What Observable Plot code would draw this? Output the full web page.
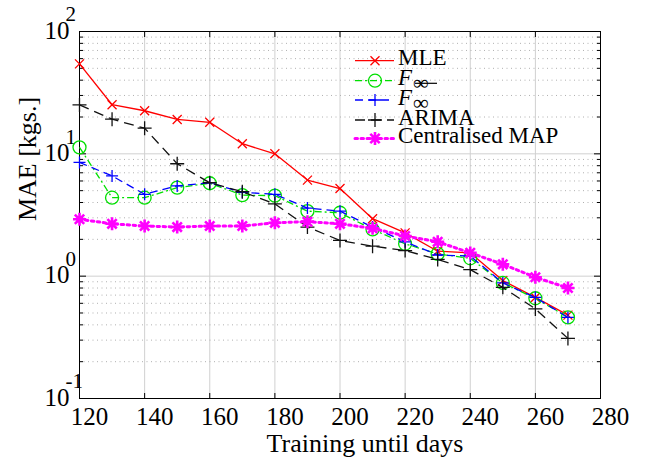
<!DOCTYPE html>
<html><head><meta charset="utf-8">
<script src="https://cdn.jsdelivr.net/npm/d3@7"></script>
<script src="https://cdn.jsdelivr.net/npm/@observablehq/plot@0.6"></script>
<style>body{margin:0;background:#fff} svg{display:block}</style>
</head><body><div id="chart"></div>
<script>
// ---- data ----
const days   = [120,130,140,150,160,170,180,190,200,210,220,230,240,250,260,270];
const mle    = [54.4,25.2,22.5,19.1,18.1,12.1,10.0,6.1,5.2,2.95,2.26,1.60,1.55,0.92,0.67,0.48];
const fGreen = [11.3,4.38,4.38,5.29,5.75,4.6,4.55,3.4,3.3,2.41,1.84,1.52,1.40,0.88,0.66,0.46];
const fBlue  = [8.5,6.6,4.67,5.47,5.8,4.85,4.67,3.6,3.4,2.52,1.91,1.49,1.46,0.88,0.67,0.46];
const arima  = [25.1,19.2,16.2,8.3,5.8,4.9,3.9,2.52,1.96,1.76,1.62,1.37,1.13,0.81,0.54,0.31];
const cmap   = [2.92,2.68,2.57,2.52,2.57,2.57,2.73,2.79,2.68,2.46,2.13,1.91,1.55,1.25,0.98,0.80];
const seriesNames = ["MLE","F","F","ARIMA","Centralised MAP"];
const xTicks = [120,140,160,180,200,220,240,260,280];
const xTickLabels = ["120","140","160","180","200","220","240","260","280"];
const yTicks = [0.1,1,10,100];
const yTickBase = ["10","10","10","10"];
const yTickExp = ["-1","0","1","2"];
const xLabel = "Training until days";
const yLabel = "MAE [kgs.]";

// minor log grid values
const yMinor = [];
for (const d of [0.1,1,10]) for (let k=2;k<=9;k++) yMinor.push(+(d*k).toPrecision(3));

// ---- symbols ----
const rad = s => Math.sqrt(s/Math.PI);
const symTimes = {draw(c,s){const r=rad(s);c.moveTo(-r,-r);c.lineTo(r,r);c.moveTo(-r,r);c.lineTo(r,-r);}};
const symPlus  = {draw(c,s){const r=rad(s);c.moveTo(-r,0);c.lineTo(r,0);c.moveTo(0,-r);c.lineTo(0,r);}};
const symAst   = {draw(c,s){const r=rad(s),q=r*0.72;c.moveTo(-r,0);c.lineTo(r,0);c.moveTo(0,-r);c.lineTo(0,r);
  c.moveTo(-q,-q);c.lineTo(q,q);c.moveTo(-q,q);c.lineTo(q,-q);}};

const series = [
  {name:seriesNames[0], vals:mle,    stroke:"#ff0000", dash:null,      sw:1.3, sym:symTimes, r:4.5, msw:1.3},
  {name:seriesNames[1], vals:fGreen, stroke:"#00e000", dash:"7,3,2,3", sw:1.3, sym:"circle", r:6.5, msw:1.3},
  {name:seriesNames[2], vals:fBlue,  stroke:"#0000ff", dash:"8,5",     sw:1.3, sym:symPlus,  r:6,   msw:1.3},
  {name:seriesNames[3], vals:arima,  stroke:"#111111", dash:"10,6",    sw:1.3, sym:symPlus,  r:7,   msw:1.3},
  {name:seriesNames[4], vals:cmap,   stroke:"#ff00ff", dash:"2.5,3.5", sw:3,   sym:symAst,   r:6.5, msw:2.6}
];

const marks = [
  Plot.gridX(xTicks, {stroke:"#d0d0d0", strokeOpacity:1}),
  Plot.gridY(yMinor, {stroke:"#b0b0b0", strokeOpacity:1, strokeDasharray:"1,3.5"}),
  Plot.gridY(yTicks, {stroke:"#d0d0d0", strokeOpacity:1}),
  Plot.axisX({ticks:xTicks, anchor:"bottom", tickSize:0, tickPadding:9, fontSize:25, dx:10,
    tickFormat:(d)=>xTickLabels[xTicks.indexOf(d)]}),
  Plot.axisX({ticks:xTicks, anchor:"bottom", tickSize:-5, tickFormat:()=>""}),
  Plot.axisX({ticks:xTicks, anchor:"top", tickSize:-5, tickFormat:()=>""}),
  Plot.axisY({ticks:yTicks, anchor:"left", tickSize:-7, tickFormat:()=>""}),
  Plot.axisY({ticks:yMinor, anchor:"left", tickSize:-4, tickFormat:()=>""}),
  Plot.axisY({ticks:yTicks, anchor:"right", tickSize:-7, tickFormat:()=>""}),
  Plot.axisY({ticks:yMinor, anchor:"right", tickSize:-4, tickFormat:()=>""}),
  Plot.text(yTicks, {y:d=>d, text:(d,i)=>yTickBase[i], frameAnchor:"left", textAnchor:"start", dx:-35, dy:-1, fontSize:25}),
  Plot.text(yTicks, {y:d=>d, text:(d,i)=>yTickExp[i], frameAnchor:"left", textAnchor:"start", dx:-14, dy:-17, fontSize:21}),
  Plot.frame({stroke:"#000", strokeWidth:1})
];
for (const s of series) {
  const rows = days.map((d,i)=>({day:d, v:s.vals[i]}));
  marks.push(Plot.line(rows, {x:"day", y:"v", stroke:s.stroke, strokeWidth:s.sw, strokeDasharray:s.dash, strokeLinecap: s.sw>2?"round":"butt"}));
  marks.push(Plot.dot(rows, {x:"day", y:"v", symbol:s.sym, r:s.r, stroke:s.stroke, fill:"none", strokeWidth:s.msw}));
}

const svg = Plot.plot({
  width:647, height:457,
  marginLeft:79, marginRight:47, marginTop:31, marginBottom:59,
  style:{fontFamily:"'Liberation Serif','Times New Roman',serif", background:"#fff", color:"#000", overflow:"visible"},
  x:{domain:[120,280], label:null},
  y:{type:"log", domain:[0.1,100], label:null},
  marks
});
document.getElementById("chart").appendChild(svg);

// ---- axis titles ----
const g = d3.select(svg).append("g").attr("font-family","'Liberation Serif','Times New Roman',serif").attr("fill","#000");
g.append("text").attr("x",365).attr("y",452).attr("text-anchor","middle").attr("font-size",26).text(xLabel);
g.append("text").attr("transform","translate(36,159) rotate(-90)").attr("text-anchor","middle").attr("font-size",26).text(yLabel);

// ---- legend ----
const legY = [60.7,80.7,100,120,138.5];
const lg = g.append("g").attr("text-anchor","start");
series.forEach((s,i)=>{
  const y = legY[i];
  lg.append("line").attr("x1",355).attr("x2",394).attr("y1",y).attr("y2",y)
    .attr("stroke",s.stroke).attr("stroke-width",s.sw).attr("stroke-dasharray",s.dash).attr("stroke-linecap", s.sw>2?"round":"butt");
  const sz = Math.PI*s.r*s.r;
  if (s.sym === "circle") {
    lg.append("circle").attr("cx",375).attr("cy",y).attr("r",s.r).attr("stroke",s.stroke).attr("stroke-width",s.msw).attr("fill","none");
  } else {
    const pp = d3.path(); s.sym.draw(pp, sz);
    lg.append("path").attr("d",pp.toString()).attr("transform",`translate(375,${y})`)
      .attr("stroke",s.stroke).attr("stroke-width",s.msw).attr("fill","none");
  }
  const t = lg.append("text").attr("x",398).attr("y",y+4.5).attr("font-size",23).attr("text-anchor","start");
  if (i===1 || i===2) {
    t.append("tspan").attr("font-style","italic").text(s.name);
    t.append("tspan").attr("font-size",22).attr("dy",5).attr("dx",1).text("∞");
    if (i===1) lg.append("line").attr("x1",415).attr("x2",437).attr("y1",y+2.6).attr("y2",y+2.6).attr("stroke","#000").attr("stroke-width",1.2);
  } else t.text(s.name);
});
</script>
</body></html>
